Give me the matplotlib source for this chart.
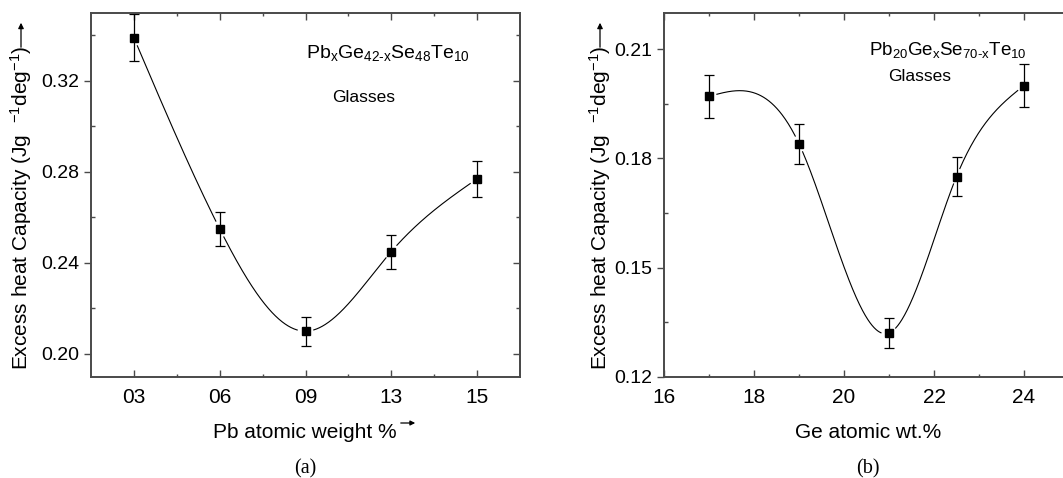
import numpy as np
import matplotlib
matplotlib.use("Agg")
import matplotlib.pyplot as plt
from matplotlib.ticker import FixedLocator, MultipleLocator, FormatStrFormatter
from matplotlib.patches import FancyArrowPatch

plt.rcParams['font.family'] = ['Liberation Sans', 'DejaVu Sans']
plt.rcParams['mathtext.fontset'] = 'custom'
plt.rcParams['mathtext.rm'] = 'Liberation Sans'
plt.rcParams['mathtext.it'] = 'Liberation Sans'

# (a) Pb content, categorical positions
pb_labels = ['03', '06', '09', '13', '15']
pb_cp = [0.339, 0.255, 0.210, 0.245, 0.277]
pb_err = [0.0103, 0.0075, 0.0063, 0.0075, 0.0078]

# (b) Ge content
ge_x = [17, 19, 21, 22.5, 24]
ge_cp = [0.197, 0.184, 0.132, 0.175, 0.200]
ge_err = [0.0059, 0.0055, 0.0040, 0.0053, 0.0060]

W, H = 1063, 478
SPINE = '#4a4a4a'


def natural_spline(x, y, xs):
    x = np.asarray(x, float); y = np.asarray(y, float)
    n = len(x); h = np.diff(x)
    A = np.zeros((n, n)); b = np.zeros(n)
    A[0, 0] = A[-1, -1] = 1
    for i in range(1, n - 1):
        A[i, i - 1] = h[i - 1]; A[i, i] = 2 * (h[i - 1] + h[i]); A[i, i + 1] = h[i]
        b[i] = 3 * ((y[i + 1] - y[i]) / h[i] - (y[i] - y[i - 1]) / h[i - 1])
    c = np.linalg.solve(A, b)
    bb = (y[1:] - y[:-1]) / h - h * (2 * c[:-1] + c[1:]) / 3
    d = (c[1:] - c[:-1]) / (3 * h)
    idx = np.clip(np.searchsorted(x, xs) - 1, 0, n - 2)
    dx = xs - x[idx]
    return y[idx] + bb[idx] * dx + c[idx] * dx ** 2 + d[idx] * dx ** 3


def draw_panel(ax, x, y, err, gap_px=8):
    # smooth curve, broken near each symbol (Origin style)
    xs = np.linspace(x[0], x[-1], 600)
    ys = natural_spline(x, y, xs)
    pts = ax.transData.transform(np.column_stack([xs, ys]))
    cen = ax.transData.transform(np.column_stack([x, y]))
    for c in cen:
        dist = np.hypot(pts[:, 0] - c[0], pts[:, 1] - c[1])
        ys[dist < gap_px] = np.nan
    ax.plot(xs, ys, color='black', lw=0.8)
    ax.errorbar(x, y, yerr=err, fmt='s', color='black', ms=5.5,
                elinewidth=0.9, capsize=3.5, capthick=0.9)


def style(ax, ymaj, ymin, right_ticks=True):
    for s in ax.spines.values():
        s.set_color(SPINE)
        s.set_linewidth(1.4)
    ax.yaxis.set_major_locator(MultipleLocator(ymaj))
    ax.yaxis.set_minor_locator(MultipleLocator(ymin))
    ax.yaxis.set_major_formatter(FormatStrFormatter('%.2f'))
    ax.tick_params(axis='x', which='both', direction='in', top=True,
                   labelsize=15, color=SPINE, pad=8)
    ax.tick_params(axis='x', which='major', length=5, width=1)
    ax.tick_params(axis='x', which='minor', length=2.5, width=1)
    ax.tick_params(axis='y', which='major', direction='out', length=5,
                   width=1, labelsize=14, color=SPINE, right=False)
    ax.tick_params(axis='y', which='minor', direction='in', length=3,
                   width=1, color=SPINE, right=right_ticks)
    if right_ticks:
        sec = ax.secondary_yaxis('right')
        sec.yaxis.set_major_locator(MultipleLocator(ymaj))
        sec.tick_params(axis='y', which='major', direction='in', length=5,
                        width=1, color=SPINE, labelright=False)
        sec.tick_params(axis='y', which='minor', length=0)
        sec.spines['right'].set_color(SPINE)
        sec.spines['right'].set_linewidth(1.4)


fig = plt.figure(figsize=(W / 100, H / 100), dpi=100)

bottom = (H - 376.7) / H
height = 364 / H
ax1 = fig.add_axes([91 / W, bottom, 429 / W, height])
ax2 = fig.add_axes([664 / W, bottom, 405 / W, height])

# panel (a)
pos = np.arange(1, len(pb_labels) + 1)
ax1.set_xlim(0.5, 5.5)
ax1.set_ylim(0.19, 0.35)
ax1.xaxis.set_major_locator(FixedLocator(pos))
ax1.xaxis.set_minor_locator(FixedLocator(pos[:-1] + 0.5))
ax1.set_xticklabels(pb_labels)
style(ax1, 0.04, 0.02)
draw_panel(ax1, pos, pb_cp, pb_err)
ax1.text(0.50, 0.89, r'Pb$_{\mathrm{x}}$Ge$_{\mathrm{42\text{-}x}}$Se$_{\mathrm{48}}$Te$_{\mathrm{10}}$',
         transform=ax1.transAxes, fontsize=14, ha='left', va='center')
ax1.text(0.635, 0.768, 'Glasses', transform=ax1.transAxes, fontsize=12.5,
         ha='center', va='center')

# panel (b)
ax2.set_xlim(16, 25)
ax2.set_ylim(0.12, 0.22)
ax2.xaxis.set_major_locator(MultipleLocator(2))
ax2.xaxis.set_minor_locator(MultipleLocator(1))
style(ax2, 0.03, 0.015, right_ticks=False)
draw_panel(ax2, ge_x, ge_cp, ge_err)
ax2.text(0.505, 0.897, r'Pb$_{\mathrm{20}}$Ge$_{\mathrm{x}}$Se$_{\mathrm{70\text{-}x}}$Te$_{\mathrm{10}}$',
         transform=ax2.transAxes, fontsize=13.5, ha='left', va='center')
ax2.text(0.63, 0.826, 'Glasses', transform=ax2.transAxes, fontsize=12.5,
         ha='center', va='center')

# y labels with arrows
ylab = r'Excess heat Capacity (Jg  $^{\mathrm{-1}}$deg$^{\mathrm{-1}}$)'
for xc in (21, 600):
    fig.text(xc / W, (H - 370) / H, ylab, rotation=90, ha='center',
             va='bottom', fontsize=15)
    fig.add_artist(FancyArrowPatch(
        (xc / W, (H - 50) / H), (xc / W, (H - 20) / H),
        transform=fig.transFigure, arrowstyle='-|>', mutation_scale=8,
        lw=0.9, color='black'))

# x labels
fig.text(305 / W, (H - 433) / H, 'Pb atomic weight %', ha='center',
         va='center', fontsize=15)
fig.add_artist(FancyArrowPatch(
    (398 / W, (H - 423) / H), (418 / W, (H - 423) / H),
    transform=fig.transFigure, arrowstyle='-|>', mutation_scale=7,
    lw=0.9, color='black'))
fig.text(868 / W, (H - 433) / H, 'Ge atomic wt.%', ha='center',
         va='center', fontsize=15)

# captions
fig.text(305 / W, (H - 469) / H, '(a)', ha='center', va='center',
         fontsize=14.5, family='Liberation Serif')
fig.text(868 / W, (H - 469) / H, '(b)', ha='center', va='center',
         fontsize=14.5, family='Liberation Serif')

fig.savefig('out.png', dpi=100)
